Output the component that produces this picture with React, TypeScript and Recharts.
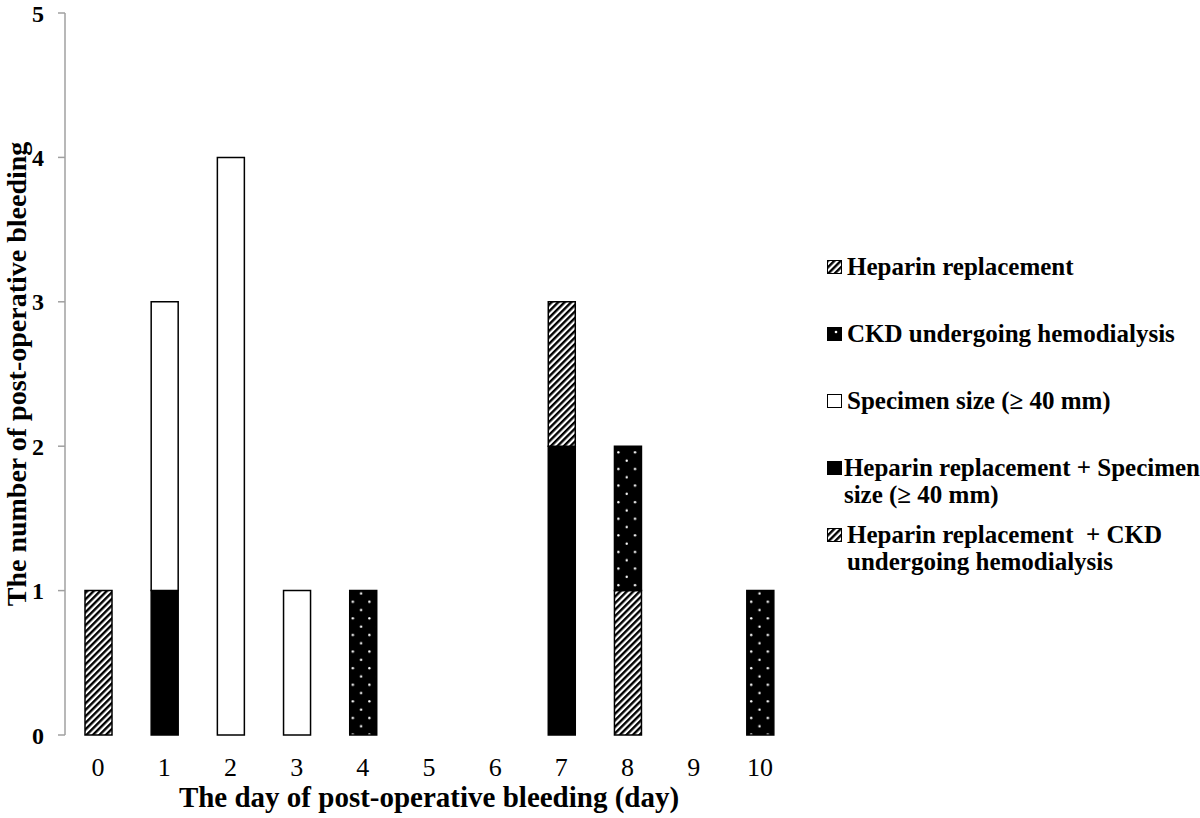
import React from 'react';
import { BarChart, Bar, XAxis, YAxis, Legend } from 'recharts';

// Days on the x axis
const days = [0, 1, 2, 3, 4, 5, 6, 7, 8, 9, 10];
// Boundaries between day categories (where the x tick marks sit)
const dayBoundaries = [-0.5, 0.5, 1.5, 2.5, 3.5, 4.5, 5.5, 6.5, 7.5, 8.5, 9.5, 10.5];
const yTicks = [0, 1, 2, 3, 4, 5];

// Series values per day (stack order bottom -> top)
const heparinCkd = [0, 0, 0, 0, 0, 0, 0, 0, 1, 0, 0];
const heparinSpecimen = [0, 1, 0, 0, 0, 0, 0, 2, 0, 0, 0];
const specimen = [0, 2, 4, 1, 0, 0, 0, 0, 0, 0, 0];
const ckd = [0, 0, 0, 0, 1, 0, 0, 0, 1, 0, 1];
const heparin = [1, 0, 0, 0, 0, 0, 0, 1, 0, 0, 0];

const series = [
  { key: 'heparinCkd', values: heparinCkd, fill: 'url(#hatch)', icon: 'hatch', lines: ['Heparin replacement  + CKD', 'undergoing hemodialysis'] },
  { key: 'heparinSpecimen', values: heparinSpecimen, fill: '#000', icon: 'solid', lines: ['Heparin replacement + Specimen', 'size (\u2265 40 mm)'] },
  { key: 'specimen', values: specimen, fill: '#fff', icon: 'white', lines: ['Specimen size (\u2265 40 mm)'] },
  { key: 'ckd', values: ckd, fill: 'url(#dots)', icon: 'dots', lines: ['CKD undergoing hemodialysis'] },
  { key: 'heparin', values: heparin, fill: 'url(#hatch)', icon: 'hatch', lines: ['Heparin replacement'] },
];

const data = days.map((d, i) => {
  const row: Record<string, number> = { day: d };
  series.forEach((s) => {
    row[s.key] = s.values[i];
  });
  return row;
});

const FONT = '"Liberation Serif", "Times New Roman", Times, serif';

function Icon({ type }: { type: string }) {
  return (
    <svg width={15} height={14} style={{ display: 'block' }}>
      {type === 'hatch' && <rect x={0.5} y={0.5} width={14} height={13} fill="url(#hatchIcon)" stroke="#000" strokeWidth={1} />}
      {type === 'solid' && <rect x={0.5} y={0.5} width={14} height={13} fill="#000" stroke="#000" strokeWidth={1} />}
      {type === 'white' && <rect x={0.5} y={0.5} width={14} height={13} fill="#fff" stroke="#000" strokeWidth={1} />}
      {type === 'dots' && (
        <g>
          <rect x={0.5} y={0.5} width={14} height={13} fill="#000" stroke="#000" strokeWidth={1} />
          <circle cx={9} cy={5} r={1.3} fill="#fff" />
        </g>
      )}
    </svg>
  );
}

function LegendContent() {
  const items = [...series].reverse();
  return (
    <div style={{ fontFamily: FONT, fontWeight: 'bold', fontSize: 25, color: '#000' }}>
      {items.map((s) => (
        <div key={s.key} style={{ display: 'flex', flexDirection: 'row', height: 67 }}>
          <div style={{ width: 20, paddingTop: 7 }}>
            <Icon type={s.icon} />
          </div>
          <div>
            {s.lines.map((ln, j) => (
              <div key={j} style={{ lineHeight: '27px', whiteSpace: 'pre' }}>
                {ln}
              </div>
            ))}
          </div>
        </div>
      ))}
    </div>
  );
}

export default function App() {
  return (
    <div style={{ position: 'absolute', left: 0, top: 0, width: 1200, height: 818, overflow: 'hidden', background: '#fff' }}>
      <BarChart
        width={1200}
        height={818}
        data={data}
        margin={{ top: 13, right: 407, bottom: 0, left: 0 }}
        style={{ fontFamily: FONT }}
      >
        <defs>
          <pattern id="hatch" patternUnits="userSpaceOnUse" width={4.6} height={4.6} patternTransform="rotate(45)">
            <rect width={4.6} height={4.6} fill="#fff" />
            <rect width={2.4} height={4.6} fill="#000" />
          </pattern>
          <pattern id="hatchIcon" patternUnits="userSpaceOnUse" width={4.6} height={4.6} patternTransform="rotate(45)">
            <rect width={4.6} height={4.6} fill="#fff" />
            <rect width={2.4} height={4.6} fill="#000" />
          </pattern>
          <pattern id="dots" patternUnits="userSpaceOnUse" width={16.6} height={16.6}>
            <rect width={16.6} height={16.6} fill="#000" />
            <circle cx={4.2} cy={4.2} r={1.2} fill="#fff" />
            <circle cx={12.5} cy={12.5} r={1.2} fill="#fff" />
          </pattern>
        </defs>
        <XAxis
          xAxisId="grid"
          type="number"
          dataKey="day"
          domain={[-0.5, 10.5]}
          ticks={dayBoundaries}
          interval={0}
          tick={false}
          tickSize={7}
          height={0}
          stroke="#a0a0a0"
          strokeWidth={1.5}
        />
        <XAxis
          xAxisId="lab"
          type="number"
          dataKey="day"
          domain={[-0.5, 10.5]}
          ticks={days}
          interval={0}
          axisLine={false}
          tickLine={false}
          tickSize={7}
          tickMargin={16}
          height={83}
          tick={{ fill: '#000', fontSize: 26 }}
          label={{
            value: 'The day of post-operative bleeding (day)',
            position: 'insideBottom',
            offset: 11,
            style: { fontSize: 29, fontWeight: 'bold', fill: '#000' },
          }}
        />
        <YAxis
          type="number"
          domain={[0, 5]}
          ticks={yTicks}
          interval={0}
          width={65}
          tickSize={7}
          tickMargin={14}
          stroke="#a0a0a0"
          strokeWidth={1.5}
          tick={{ fill: '#000', fontSize: 24, fontWeight: 'bold' }}
          label={{
            value: 'The number of post-operative bleeding',
            angle: -90,
            position: 'insideLeft',
            offset: 16,
            style: { textAnchor: 'middle', fontSize: 28, fontWeight: 'bold', fill: '#000' },
          }}
        />
        <Legend
          layout="horizontal"
          verticalAlign="middle"
          align="center"
          wrapperStyle={{ left: 827, top: 253, width: 373, height: 340 }}
          content={() => <LegendContent />}
        />
        {series.map((s) => (
          <Bar
            key={s.key}
            dataKey={s.key}
            xAxisId="lab"
            stackId="a"
            fill={s.fill}
            stroke="#000"
            strokeWidth={1.5}
            barSize={27}
            isAnimationActive={false}
          />
        ))}
      </BarChart>
    </div>
  );
}
